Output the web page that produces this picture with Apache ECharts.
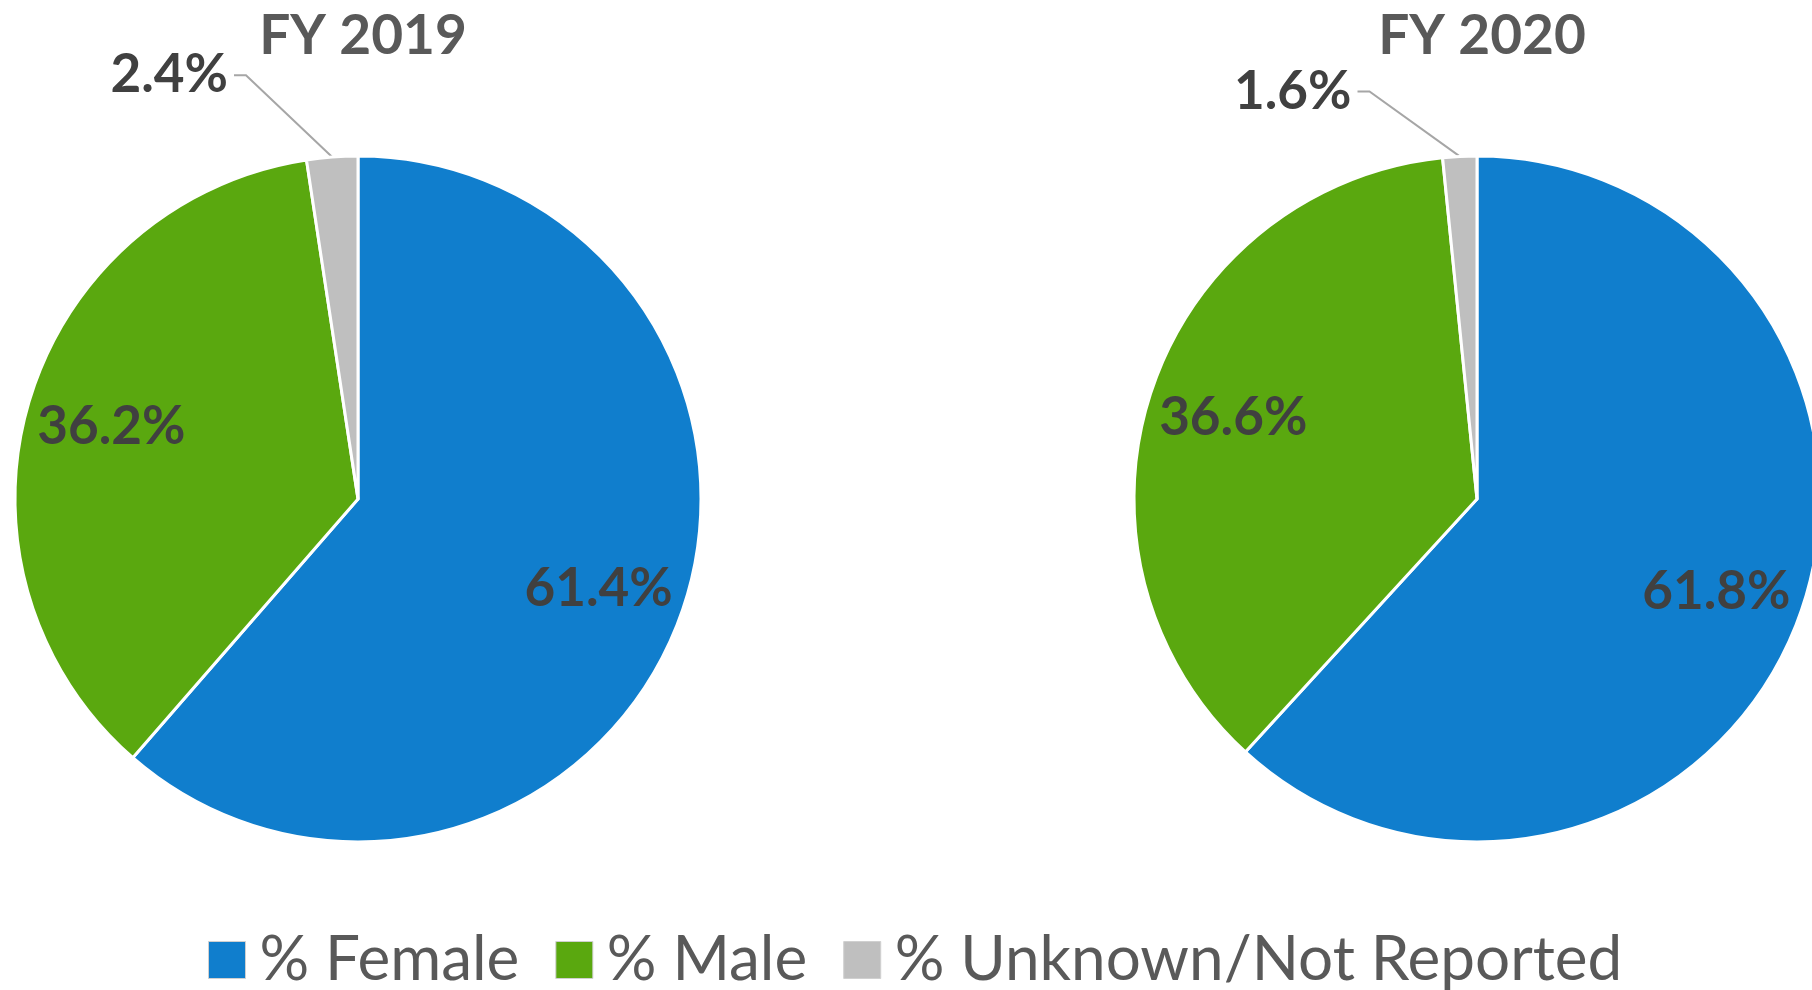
<!DOCTYPE html>
<html>
<head>
<meta charset="utf-8">
<title>FY 2019 / FY 2020</title>
<script src="https://cdn.jsdelivr.net/npm/echarts@6/dist/echarts.min.js"></script>
<style>
  html, body { margin: 0; padding: 0; background: #fff; }
  #chart { width: 1812px; height: 990px; }
</style>
</head>
<body>
<div id="chart"></div>
<script>
const categories = ['% Female', '% Male', '% Unknown/Not Reported']
const years = ['FY 2019', 'FY 2020']
const values2019 = [61.4, 36.2, 2.4]
const values2020 = [61.8, 36.6, 1.6]
const colors = ['#107ecd', '#5aa80f', '#bfbfbf']

const centers = [[358, 499], [1477, 499]]
const radius = 343
// leader line for the small slice, per pie
const smallLines = [[82, 92], [65, 99]]

const labelFont = {
  fontFamily: 'Lato',
  fontWeight: 'bold',
  fontSize: 53,
  color: '#404040'
}

function pieSeries(values, idx) {
  return {
    type: 'pie',
    name: years[idx],
    center: centers[idx],
    radius: radius,
    startAngle: 90,
    clockwise: true,
    animation: false,
    avoidLabelOverlap: false,
    itemStyle: { borderColor: '#fff', borderWidth: 3 },
    emphasis: { disabled: true },
    // excel style leader: diagonal from the slice, short flat stub at the label
    labelLayout: function (params) {
      const pts = params.labelLinePoints
      if (!pts || pts.length < 3) {
        return {}
      }
      const p0 = pts[0]
      const p2 = pts[2]
      const dir = p2[0] < p0[0] ? 1 : -1
      return {
        labelLinePoints: [p0, [p2[0] + dir * 12, p2[1]], p2]
      }
    },
    data: values.map((v, i) => ({
      name: categories[i],
      value: v,
      itemStyle: { color: colors[i] },
      label: {
        show: i === 2,
        position: 'outside',
        formatter: '{c}%',
        distanceToLabelLine: 6,
        ...labelFont
      },
      labelLine: {
        show: i === 2,
        length: smallLines[idx][0],
        length2: smallLines[idx][1],
        lineStyle: { color: '#a6a6a6', width: 2 }
      }
    }))
  }
}

// invisible copy with a larger radius, so the inside labels sit at ~0.74 r
function labelSeries(values, idx) {
  return {
    type: 'pie',
    center: centers[idx],
    radius: radius * 1.48,
    startAngle: 90,
    clockwise: true,
    silent: true,
    animation: false,
    itemStyle: { color: 'rgba(0,0,0,0)', borderWidth: 0 },
    labelLine: { show: false },
    data: values.map((v, i) => ({
      name: categories[i],
      value: v,
      label: {
        show: i !== 2,
        position: 'inside',
        formatter: '{c}%',
        ...labelFont
      }
    }))
  }
}

const chart = echarts.init(document.getElementById('chart'))
chart.setOption({
  backgroundColor: '#fff',
  title: years.map((t, i) => ({
    text: t,
    left: centers[i][0],
    top: 4,
    textAlign: 'center',
    textStyle: {
      fontFamily: 'Lato',
      fontWeight: 'bold',
      fontSize: 55,
      color: '#595959'
    }
  })),
  legend: {
    data: categories,
    left: 203,
    top: 924,
    itemWidth: 37,
    itemHeight: 37,
    itemGap: 36,
    icon: 'rect',
    itemStyle: { borderColor: '#d0d0d0', borderWidth: 1 },
    textStyle: {
      fontFamily: 'Lato',
      fontSize: 62,
      color: '#595959',
      padding: [0, 0, 0, 9]
    }
  },
  series: [
    pieSeries(values2019, 0),
    pieSeries(values2020, 1),
    labelSeries(values2019, 0),
    labelSeries(values2020, 1)
  ]
})
</script>
</body>
</html>
